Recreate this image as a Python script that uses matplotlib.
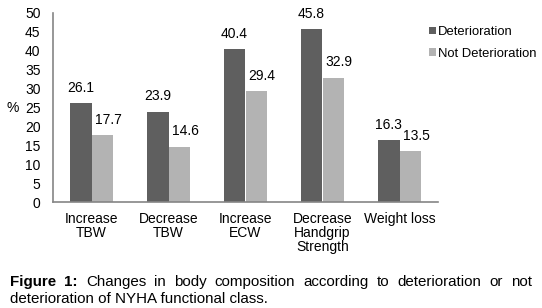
import matplotlib.pyplot as plt
import numpy as np

plt.rcParams['font.family'] = ['Liberation Sans', 'DejaVu Sans']

categories = ['Increase\nTBW', 'Decrease\nTBW', 'Increase\nECW', 'Decrease\nHandgrip\nStrength', 'Weight loss']
deterioration = [26.1, 23.9, 40.4, 45.8, 16.3]
not_deterioration = [17.7, 14.6, 29.4, 32.9, 13.5]
yticks = [0, 5, 10, 15, 20, 25, 30, 35, 40, 45, 50]

dark = '#5f5f5f'
light = '#b3b3b3'

fig = plt.figure(figsize=(5.42, 3.08), dpi=100)
ax = fig.add_axes([53/542, 1-202/308, 385/542, 189/308])

x = np.arange(len(categories))
w = 0.285
b1 = ax.bar(x - w/2, deterioration, w, color=dark, label='Deterioration')
b2 = ax.bar(x + w/2, not_deterioration, w, color=light, label='Not Deterioration')

for r, v in zip(b1, deterioration):
    ax.annotate(f'{v}', (r.get_x() + r.get_width()/2, v), xytext=(0, 6),
                textcoords='offset points', ha='center', va='bottom', fontsize=10)
for r, v in zip(b2, not_deterioration):
    ax.annotate(f'{v}', (r.get_x() + r.get_width()/2, v), xytext=(4, 6),
                textcoords='offset points', ha='center', va='bottom', fontsize=10)

ax.set_xlim(-0.5, 4.5)
ax.set_ylim(0, 50)
ax.set_yticks(yticks)
ax.set_xticks(x)
ax.set_xticklabels(categories, fontsize=10, linespacing=1.0)
ax.tick_params(axis='y', length=0, pad=9, labelsize=10)
ax.tick_params(axis='x', length=0, pad=7)
for s in ['top', 'right']:
    ax.spines[s].set_visible(False)
for s in ['left', 'bottom']:
    ax.spines[s].set_color('#858585')
    ax.spines[s].set_linewidth(1.2)

fig.text(13/542, 1-108/308, '%', fontsize=10, ha='center', va='center')

fig.legend(loc='upper left', bbox_to_anchor=(429/542, 1-26/308), frameon=False,
           fontsize=9.4, handlelength=0.5, handleheight=0.5, handletextpad=0.2,
           labelspacing=0.75, borderpad=0, borderaxespad=0)

# caption, first line justified
fig.canvas.draw()
r = fig.canvas.get_renderer()
left, right = 10, 532
words = ['Figure', '1:', 'Changes', 'in', 'body', 'composition', 'according', 'to',
         'deterioration', 'or', 'not']
weights = ['bold', 'bold'] + ['normal'] * 9
y1 = 1 - 286/308
tmp = []
for wd, wt in zip(words, weights):
    t = fig.text(0, y1, wd, fontsize=10.9, fontweight=wt, va='baseline')
    tmp.append(t)
widths = [t.get_window_extent(r).width for t in tmp]
gap = (right - left - sum(widths)) / (len(words) - 1)
pos = left
for t, wdt in zip(tmp, widths):
    t.set_x(pos/542)
    pos += wdt + gap
fig.text(left/542, 1 - 303/308, 'deterioration of NYHA functional class.', fontsize=10.9, va='baseline')

fig.savefig('out.png', dpi=100)
